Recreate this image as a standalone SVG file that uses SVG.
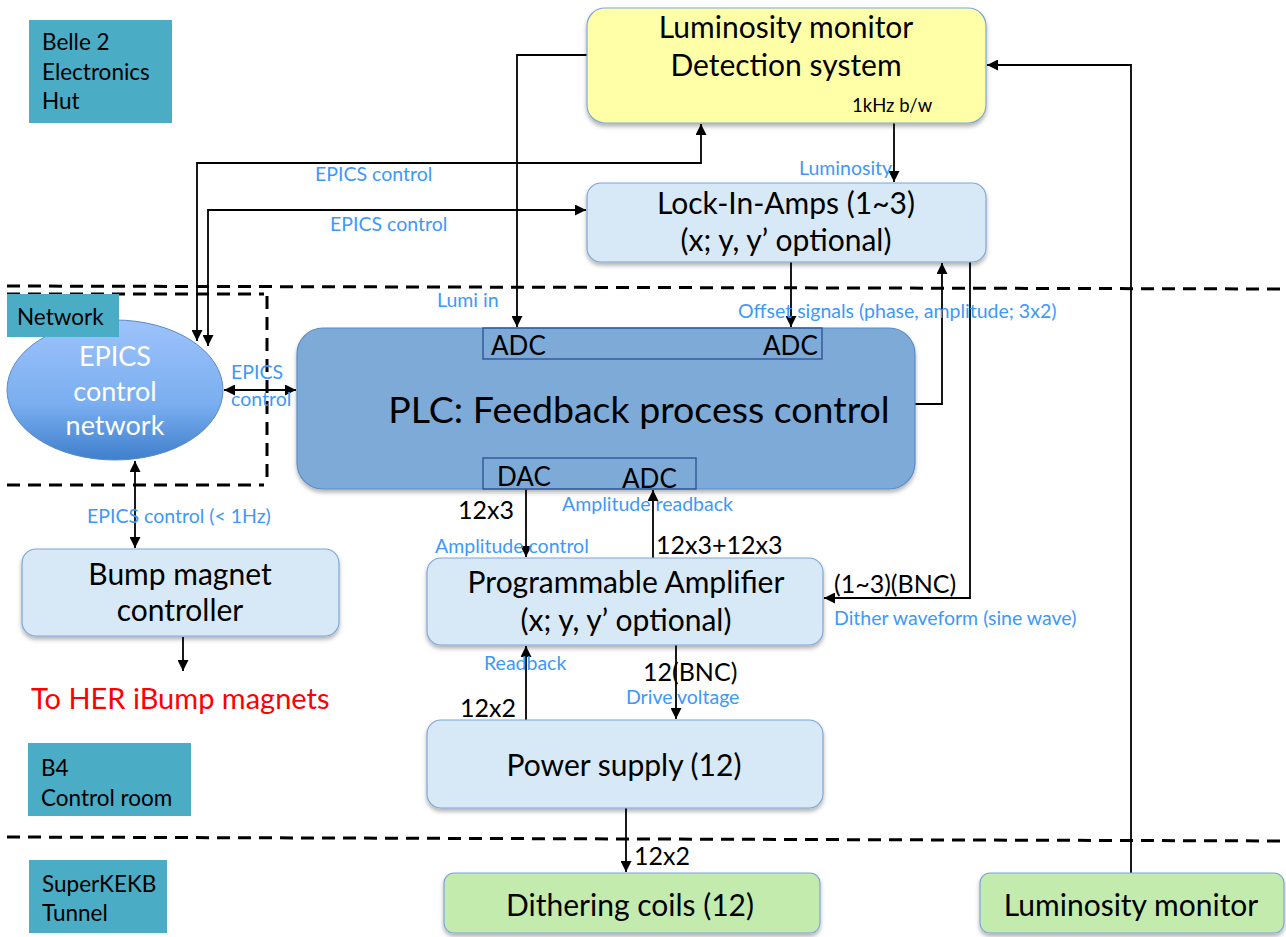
<svg xmlns="http://www.w3.org/2000/svg" width="1286" height="937" viewBox="0 0 1286 937">
  <defs>
    <style>
      text { font-family: Lato, "Open Sans", "Liberation Sans", sans-serif; }
      .lbl { fill: #000; font-size: 22.5px; }
      .zone { fill: #4BACC6; }
      .box { fill: #D7E9F6; stroke: #7FA6D8; stroke-width: 1.2; filter: url(#shadow); }
      .yellow { fill: #FFFFA8; stroke: #7FA6D8; stroke-width: 1.2; filter: url(#shadow); }
      .green { fill: #C4EBAE; stroke: #7FA6D8; stroke-width: 1.2; filter: url(#shadow); }
      .plc { fill: #7DAAD7; stroke: #5B8BC5; stroke-width: 1.2; filter: url(#shadow); }
      .port { fill: none; stroke: #2F5597; stroke-width: 1.4; }
      .big { font-size: 30px; fill: #000; text-anchor: middle; }
      .med { font-size: 25px; fill: #000; }
      .port-txt { font-size: 26px; fill: #000; }
      .blue { font-size: 19.5px; fill: #3C99FA; }
      .wire { fill: none; stroke: #000; stroke-width: 1.8; }
      .dash { fill: none; stroke: #000; stroke-width: 3; stroke-dasharray: 13 8; }
    </style>
    <marker id="arr" viewBox="0 0 10 10" refX="10" refY="5" markerWidth="11" markerHeight="11" markerUnits="userSpaceOnUse" orient="auto-start-reverse">
      <path d="M0,0 L10,5 L0,10 z" fill="#000"/>
    </marker>
    <filter id="shadow" x="-10%" y="-10%" width="120%" height="130%">
      <feDropShadow dx="0" dy="3" stdDeviation="2" flood-color="#000" flood-opacity="0.3"/>
    </filter>
    <linearGradient id="epicsGrad" x1="0" y1="0" x2="0" y2="1">
      <stop offset="0" stop-color="#9DC3FB"/>
      <stop offset="0.6" stop-color="#7AAEF0"/>
      <stop offset="1" stop-color="#3F7FCC"/>
    </linearGradient>
  </defs>

  <!-- zone separators -->
  <g id="separators">
    <path class="dash" d="M7,286 L1286,289"/>
    <path class="dash" d="M7,294 L264,294"/>
    <path class="dash" d="M267,296 L267,484"/>
    <path class="dash" d="M7,485 L264,485"/>
    <path class="dash" d="M7,837 L1286,841"/>
  </g>

  <!-- zone labels -->
  <g id="zone-hut">
    <rect class="zone" x="29" y="20" width="143" height="103"/>
    <text class="lbl" x="42" y="50">Belle 2</text>
    <text class="lbl" x="42" y="80">Electronics</text>
    <text class="lbl" x="42" y="109">Hut</text>
  </g>
  <g id="zone-b4">
    <rect class="zone" x="28" y="743" width="163" height="73"/>
    <text class="lbl" x="41" y="776">B4</text>
    <text class="lbl" x="41" y="806">Control room</text>
  </g>
  <g id="zone-tunnel">
    <rect class="zone" x="29" y="860" width="138" height="73"/>
    <text class="lbl" x="42" y="892">SuperKEKB</text>
    <text class="lbl" x="42" y="921">Tunnel</text>
  </g>

  <!-- connectors -->
  <g id="connectors">
    <!-- EPICS network to luminosity detection -->
    <path class="wire" d="M197,341 L197,163 L701,163 L701,124" marker-start="url(#arr)" marker-end="url(#arr)"/>
    <!-- EPICS network to lock-in amplifiers -->
    <path class="wire" d="M208,346 L208,210 L586,210" marker-start="url(#arr)" marker-end="url(#arr)"/>
    <!-- luminosity signal into PLC ADC -->
    <path class="wire" d="M587,55 L517,55 L517,327" marker-end="url(#arr)"/>
    <!-- luminosity to lock-in -->
    <path class="wire" d="M894,123 L894,182" marker-end="url(#arr)"/>
    <!-- offset signals into PLC ADC -->
    <path class="wire" d="M791,262 L791,327" marker-end="url(#arr)"/>
    <!-- PLC to lock-in reference -->
    <path class="wire" d="M915,404 L942,404 L942,263" marker-end="url(#arr)"/>
    <!-- lock-in dither waveform to amplifier -->
    <path class="wire" d="M970,262 L970,598 L824,598" marker-end="url(#arr)"/>
    <!-- tunnel luminosity monitor to detection system -->
    <path class="wire" d="M1131,873 L1131,65 L987,65" marker-end="url(#arr)"/>
    <!-- EPICS network to PLC -->
    <path class="wire" d="M224,390 L296,390" marker-start="url(#arr)" marker-end="url(#arr)"/>
    <!-- EPICS network to bump magnet controller -->
    <path class="wire" d="M135,461 L135,548" marker-start="url(#arr)" marker-end="url(#arr)"/>
    <!-- bump magnet controller output -->
    <path class="wire" d="M183,637 L183,671" marker-end="url(#arr)"/>
    <!-- DAC to amplifier -->
    <path class="wire" d="M526,489 L526,557" marker-end="url(#arr)"/>
    <!-- amplifier readback to ADC -->
    <path class="wire" d="M653,558 L653,490" marker-end="url(#arr)"/>
    <!-- power supply readback -->
    <path class="wire" d="M526,720 L526,646" marker-end="url(#arr)"/>
    <!-- drive voltage -->
    <path class="wire" d="M676,645 L676,719" marker-end="url(#arr)"/>
    <!-- power supply to coils -->
    <path class="wire" d="M626,808 L626,872" marker-end="url(#arr)"/>

    <!-- connector labels -->
    <text class="blue" x="315" y="181">EPICS control</text>
    <text class="blue" x="330" y="231">EPICS control</text>
    <text class="blue" x="437" y="307">Lumi in</text>
    <text class="blue" x="799" y="175">Luminosity</text>
    <text class="blue" x="738" y="318">Offset signals (phase, amplitude; 3x2)</text>
    <text class="blue" x="231" y="379">EPICS</text>
    <text class="blue" x="231" y="406">control</text>
    <text class="blue" x="87" y="523">EPICS control (&lt; 1Hz)</text>
    <text class="blue" x="562" y="511">Amplitude readback</text>
    <text class="blue" x="435" y="553">Amplitude control</text>
    <text class="blue" x="834" y="625">Dither waveform (sine wave)</text>
    <text class="blue" x="484" y="670">Readback</text>
    <text class="blue" x="626" y="704">Drive voltage</text>
    <text class="med" x="458" y="519">12x3</text>
    <text class="med" x="656" y="554">12x3+12x3</text>
    <text class="med" x="834" y="593">(1~3)(BNC)</text>
    <text class="med" x="643" y="681">12(BNC)</text>
    <text class="med" x="460" y="717">12x2</text>
    <text class="med" x="634" y="865">12x2</text>
  </g>

  <!-- nodes -->
  <g id="lumi-detection">
    <rect class="yellow" x="587" y="8" width="399" height="115" rx="18"/>
    <text class="big" x="786" y="38">Luminosity monitor</text>
    <text class="big" x="786" y="76">Detection system</text>
    <text x="852" y="112" style="font-size:18.5px">1kHz b/w</text>
  </g>

  <g id="lock-in-amps">
    <rect class="box" x="587" y="183" width="399" height="79" rx="14"/>
    <text class="big" x="786" y="214">Lock-In-Amps (1~3)</text>
    <text class="big" x="786" y="251">(x; y, y’ optional)</text>
  </g>

  <g id="epics-network">
    <ellipse cx="115" cy="390" rx="108" ry="70" fill="url(#epicsGrad)" stroke="#5B8BC5" stroke-width="1"/>
    <text x="115" y="366" style="font-size:27px;fill:#fff;text-anchor:middle">EPICS</text>
    <text x="115" y="401" style="font-size:27px;fill:#fff;text-anchor:middle">control</text>
    <text x="115" y="435" style="font-size:27px;fill:#fff;text-anchor:middle">network</text>
  </g>

  <!-- network zone tag sits over the ellipse -->
  <g id="zone-network">
    <rect class="zone" x="7" y="294" width="112" height="43"/>
    <text class="lbl" x="17" y="325">Network</text>
  </g>

  <g id="plc">
    <rect class="plc" x="297" y="328" width="618" height="161" rx="26"/>
    <rect class="port" x="483" y="328" width="339" height="31"/>
    <rect class="port" x="483" y="458" width="213" height="31"/>
    <text class="port-txt" x="491" y="355">ADC</text>
    <text class="port-txt" x="763" y="355">ADC</text>
    <text class="port-txt" x="497" y="486">DAC</text>
    <text class="port-txt" x="622" y="488">ADC</text>
    <text x="639" y="423" style="font-size:37.5px;fill:#000;text-anchor:middle">PLC: Feedback process control</text>
  </g>

  <g id="bump-controller">
    <rect class="box" x="22" y="549" width="317" height="87" rx="14"/>
    <text class="big" x="180" y="585">Bump magnet</text>
    <text class="big" x="180" y="621">controller</text>
  </g>

  <g id="her-bump-target">
    <text x="31" y="709" style="font-size:29px;fill:#FF0000">To HER iBump magnets</text>
  </g>

  <g id="prog-amplifier">
    <rect class="box" x="427" y="558" width="396" height="87" rx="14"/>
    <text class="big" x="626" y="593">Programmable Amplifier</text>
    <text class="big" x="626" y="631">(x; y, y’ optional)</text>
  </g>

  <g id="power-supply">
    <rect class="box" x="427" y="720" width="396" height="88" rx="14"/>
    <text class="big" x="624" y="776">Power supply (12)</text>
  </g>

  <g id="dithering-coils">
    <rect class="green" x="444" y="873" width="376" height="60" rx="10"/>
    <text class="big" x="630" y="916">Dithering coils (12)</text>
  </g>

  <g id="lumi-monitor">
    <rect class="green" x="980" y="873" width="304" height="60" rx="10"/>
    <text class="big" x="1131" y="916">Luminosity monitor</text>
  </g>
</svg>
